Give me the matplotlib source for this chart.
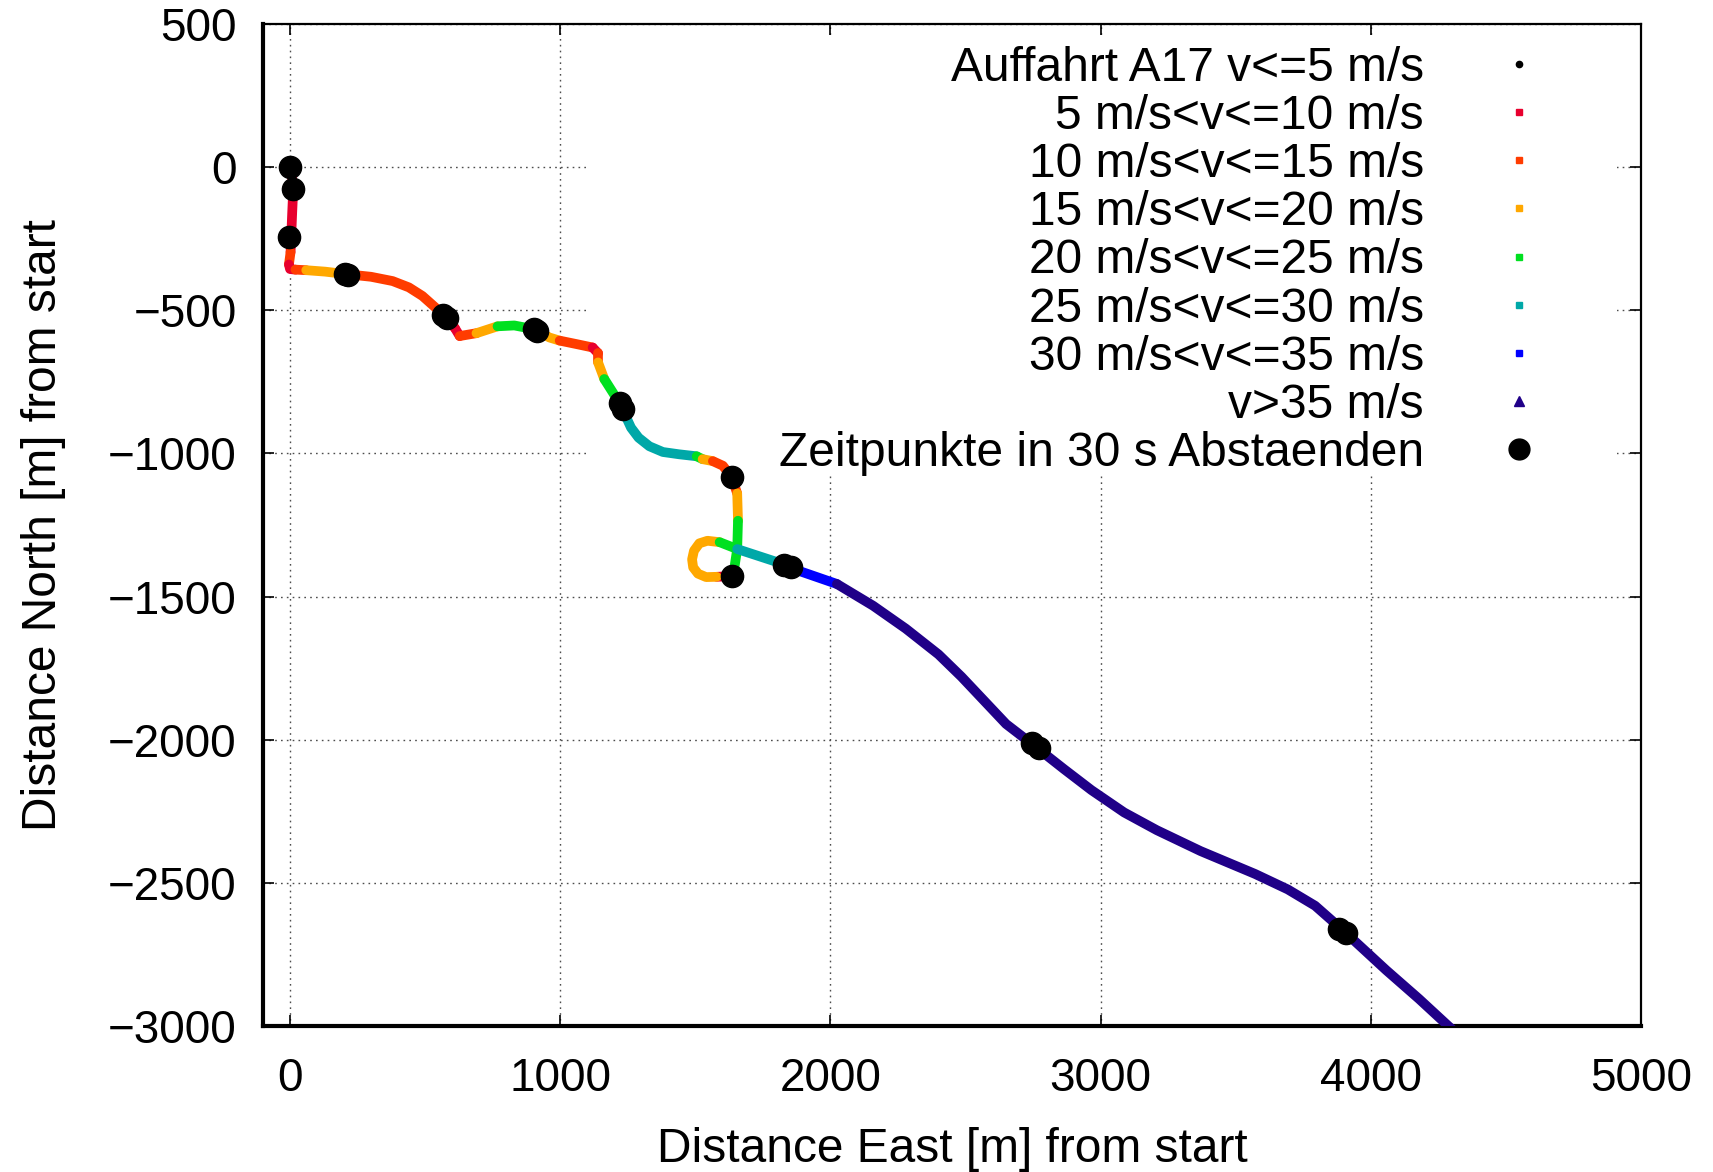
import matplotlib
matplotlib.use("Agg")
import matplotlib.pyplot as plt
from matplotlib.lines import Line2D
from matplotlib.patches import Rectangle

plt.rcParams['font.family'] = ['Liberation Sans', 'DejaVu Sans']

# ---------------- data ----------------
class_labels = ['Auffahrt A17 v<=5 m/s', '5 m/s<v<=10 m/s', '10 m/s<v<=15 m/s',
                '15 m/s<v<=20 m/s', '20 m/s<v<=25 m/s', '25 m/s<v<=30 m/s',
                '30 m/s<v<=35 m/s', 'v>35 m/s']
class_colors = ['#000000', '#e8002e', '#ff3c00', '#ffa800', '#00e020',
                '#00a8a8', '#0000ff', '#200088']
class_markers = ['o', 's', 's', 's', 's', 's', 's', '^']
dots_label = 'Zeitpunkte in 30 s Abstaenden'

# track vertices (east, north) and speed class of the segment starting at each vertex
track_east = [0, 8, 12, 8, 2, -4, 0, 20, 60, 130,
              210, 300, 380, 440, 490, 540, 574, 610, 628, 690,
              768, 830, 880, 909, 960, 998, 1060, 1120, 1140, 1140,
              1163, 1202, 1228, 1240, 1262, 1290, 1330, 1380, 1440, 1505,
              1527, 1565, 1602, 1635, 1655, 1658, 1655, 1640, 1579, 1540,
              1510, 1492, 1488, 1495, 1515, 1545, 1590, 1655, 1801, 1842,
              1886, 2024, 2158, 2279, 2400, 2485, 2565, 2650, 2756, 2865,
              2966, 3087, 3208, 3370, 3572, 3693, 3794, 3895, 4057, 4178,
              4287, 4400]
track_north = [0, -40, -76, -160, -297, -340, -356, -358, -360, -365,
               -374, -383, -398, -420, -450, -492, -523, -562, -590, -580,
               -556, -553, -562, -569, -595, -606, -618, -630, -650, -682,
               -740, -798, -834, -865, -910, -945, -975, -995, -1003, -1010,
               -1020, -1027, -1043, -1083, -1140, -1235, -1334, -1428, -1431, -1432,
               -1420, -1398, -1370, -1340, -1314, -1305, -1310, -1334, -1379, -1393,
               -1411, -1456, -1532, -1612, -1702, -1780, -1860, -1945, -2022, -2103,
               -2176, -2254, -2316, -2389, -2469, -2523, -2580, -2664, -2805, -2905,
               -3000, -3095]
seg_class = [1, 1, 1, 1, 2, 1, 1, 2, 3, 3,
             2, 2, 2, 2, 2, 2, 2, 1, 2, 3,
             4, 4, 3, 3, 3, 2, 2, 1, 2, 3,
             4, 4, 5, 5, 5, 5, 5, 5, 5, 4,
             3, 2, 2, 2, 3, 4, 4, 1, 3, 3,
             3, 3, 3, 3, 3, 3, 4, 5, 5, 5,
             6, 7, 7, 7, 7, 7, 7, 7, 7, 7,
             7, 7, 7, 7, 7, 7, 7, 7, 7, 7,
             7]

# 30 s time marks
dot_east = [0, 12, -4, 205, 215, 568, 580, 902, 915, 1222, 1232, 1635, 1635,
            1830, 1855, 2745, 2772, 3882, 3910]
dot_north = [0, -76, -244, -372, -376, -518, -528, -566, -572, -825, -845,
             -1083, -1428, -1390, -1398, -2010, -2030, -2660, -2676]

x_ticks = [0, 1000, 2000, 3000, 4000, 5000]
y_ticks = [-3000, -2500, -2000, -1500, -1000, -500, 0, 500]

# ---------------- figure ----------------
W, H = 1713, 1172
fig = plt.figure(figsize=(W / 100, H / 100), dpi=100)
L, R, T, B = 263, 1641, 24, 1026
ax = fig.add_axes([L / W, 1 - B / H, (R - L) / W, (B - T) / H])

# draw track as runs of equal class
i = 0
n = len(seg_class)
while i < n:
    j = i
    while j + 1 < n and seg_class[j + 1] == seg_class[i]:
        j += 1
    c = class_colors[seg_class[i]]
    ax.plot(track_east[i:j + 2], track_north[i:j + 2], color=c, lw=7.0,
            solid_capstyle='round', solid_joinstyle='round', zorder=3)
    i = j + 1

ax.plot(dot_east, dot_north, 'o', color='black', ms=16, zorder=4, linestyle='none')

ax.set_xlim(-100, 5000)
ax.set_ylim(-3000, 500)
ax.set_xticks(x_ticks)
ax.set_yticks(y_ticks)
ax.tick_params(direction='in', length=8, width=1.2, labelsize=33,
               top=True, right=True)
ax.tick_params(axis='x', pad=22)
ax.tick_params(axis='y', pad=19)
ax.grid(True, color='0.3', linestyle=(0, (1.2, 3.0)), lw=1.0)
ax.set_axisbelow(True)
for s in ['left', 'bottom']:
    ax.spines[s].set_linewidth(3.0)
for s in ['top', 'right']:
    ax.spines[s].set_linewidth(1.6)

ax.set_xlabel('Distance East [m] from start', fontsize=34.5)
ax.set_ylabel('Distance North [m] from start', fontsize=34.5)
ax.xaxis.set_label_coords(0.5, -0.101)
ax.yaxis.set_label_coords(-0.143, 0.5)

# opaque key area (hides grid behind the key, like the original)
key_x0 = (590 - L) / (R - L)
key_x1 = (1617 - L) / (R - L)
key_y0 = 1 - (475 - T) / (B - T)
key_y1 = 1 - 12 / (B - T)
ax.add_patch(Rectangle((key_x0, key_y0), key_x1 - key_x0, key_y1 - key_y0,
                       transform=ax.transAxes, facecolor='white',
                       edgecolor='none', zorder=1))

# legend
handles = []
for k in range(len(class_labels)):
    ms = 4.5 if k == 0 else (5 if k < 7 else 7)
    handles.append(Line2D([], [], linestyle='none', marker=class_markers[k],
                          color=class_colors[k], ms=ms))
handles.append(Line2D([], [], linestyle='none', marker='o', color='black', ms=15))
labels = class_labels + [dots_label]
leg = ax.legend(handles, labels, loc='upper right',
                bbox_to_anchor=(key_x1, 1.0),
                markerfirst=False, fontsize=34.5, frameon=False,
                borderpad=0.45, borderaxespad=0.0, labelspacing=0.067,
                handlelength=3.19, handletextpad=0.39)
for t in leg.get_texts():
    t.set_ha('right')

fig.savefig('out.png', dpi=100)
